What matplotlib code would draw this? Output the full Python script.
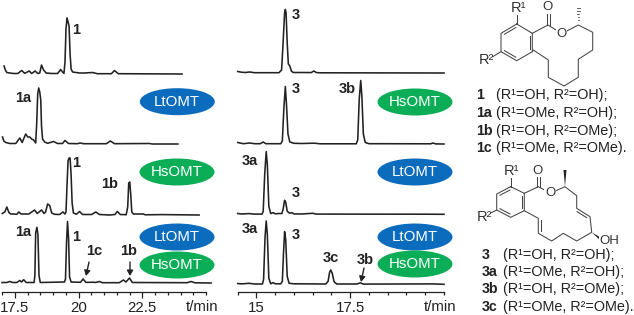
# -*- coding: utf-8 -*-
import numpy as np
import matplotlib
matplotlib.use("Agg")
import matplotlib.pyplot as plt
from matplotlib.patches import Ellipse, Polygon

plt.rcParams["font.family"] = ["Liberation Sans", "DejaVu Sans"]

W, H = 634, 315
INK = "#222222"
BLUE = "#0B6CBE"
GREEN = "#0BAE57"

# left panel, traces top to bottom (t in min, signal in arbitrary units)
l1_t = [17.08, 17.13, 17.19, 17.30, 17.46, 17.62, 17.77, 17.89, 18.07, 18.16, 18.30, 18.40, 18.48, 18.55, 18.63, 18.73, 18.95, 19.18, 19.30, 19.37, 19.43, 19.47, 19.51, 19.55, 19.59, 19.63, 19.67, 19.71, 19.77, 20.04, 20.23, 20.55, 20.74, 21.29, 21.41, 21.56, 24.06]
l1_h = [8, 4, 1.5, 1, .5, .5, 3.5, .7, 3, .5, 3, .5, 1, 9, 4, 1, .5, .5, 4.5, 2, .7, 12, 45, 56, 52, 48, 20, 5, 2, 1, 1, 1.5, .3, .3, 3.5, .3, 0]
l2_t = [17.02, 17.07, 17.15, 17.30, 17.54, 17.70, 17.79, 17.93, 18.01, 18.09, 18.16, 18.24, 18.32, 18.36, 18.40, 18.44, 18.48, 18.52, 18.55, 18.59, 18.67, 18.79, 19.02, 19.18, 19.37, 19.47, 19.61, 19.96, 20.06, 20.20, 21.09, 21.25, 21.41, 22.77, 22.89, 23.90]
l2_h = [7, 3, 1.5, .5, .5, 6, 1.5, 10, 7, 7, 5, 4, 1, 20, 50, 56, 52, 44, 18, 5, 2, .7, 2.5, .5, .5, 3.5, .5, .3, 1, .3, .3, 3, .3, .5, 0, 0]
l3_t = [17.01, 17.11, 17.19, 17.27, 17.34, 17.46, 17.58, 17.66, 17.75, 18.05, 18.28, 18.38, 18.55, 18.65, 18.71, 18.79, 18.87, 18.95, 19.06, 19.26, 19.39, 19.47, 19.51, 19.55, 19.59, 19.63, 19.67, 19.71, 19.75, 19.80, 19.92, 20.04, 20.16, 20.51, 20.68, 20.82, 21.21, 21.43, 21.52, 21.64, 21.87, 21.93, 21.97, 22.01, 22.05, 22.09, 22.15, 22.54, 22.62, 23.28, 24.73]
l3_h = [1.5, 3, 8, 2.5, 1, 1, .7, 3, 1, 1, 5, 1.5, 5, 1.5, 3, 11, 9.5, 2, .7, .5, 3, 1, 3, 30, 54, 57, 57, 40, 12, 2, .8, 3.5, .5, .5, 3, .5, 0, .5, 3.5, .5, .3, 8, 32, 33, 20, 3, 1, 1, .2, .4, 0]
l4_t = [17.00, 17.19, 17.30, 17.42, 17.58, 17.70, 17.77, 17.85, 17.95, 18.26, 18.29, 18.32, 18.37, 18.41, 18.45, 18.50, 19.45, 19.49, 19.53, 19.57, 19.61, 19.65, 19.71, 20.08, 20.18, 20.29, 20.59, 20.66, 20.82, 20.94, 21.60, 21.76, 21.86, 22.00, 22.11, 24.26, 24.41, 24.57, 25.20]
l4_h = [.5, .5, 1.5, .5, .5, 2.5, 1, 3.3, .5, .5, 8, 50, 55.7, 48, 8, .5, 1, 4, 40, 61.5, 45, 6, 1, .7, 4, .6, .8, .5, 1.5, .3, .3, 3, 1, 5, .5, .3, 1.5, .2, 0]

# right panel
r1_t = [14.50, 14.60, 14.70, 14.82, 14.95, 15.60, 15.67, 15.71, 15.75, 15.77, 15.79, 15.82, 15.85, 15.89, 15.93, 15.98, 16.25, 16.46, 16.53, 16.60, 16.70, 20.00]
r1_h = [1.5, .8, .5, 1, .3, .3, 3, 30, 60, 63.5, 60, 30, 9, 7, 2, .5, .5, .4, 2, .4, .2, 0]
r2_t = [14.50, 14.65, 14.82, 14.95, 15.10, 15.18, 15.25, 15.65, 15.69, 15.73, 15.77, 15.80, 15.84, 15.89, 16.00, 16.20, 16.54, 16.70, 17.66, 17.70, 17.74, 17.78, 17.81, 17.85, 17.90, 18.00, 19.65, 19.70, 19.78, 20.00]
r2_h = [1.5, .3, 1, .3, .3, 2, .3, .3, 3, 35, 57.5, 40, 10, 2, .7, .5, .8, .2, .2, 4, 45, 63.5, 48, 10, 1.5, .3, .2, 1, .1, 0]
r3_t = [14.50, 14.60, 14.80, 14.95, 15.15, 15.18, 15.22, 15.26, 15.29, 15.33, 15.38, 15.44, 15.50, 15.60, 15.68, 15.71, 15.75, 15.78, 15.82, 15.88, 15.95, 16.00, 16.20, 16.50, 16.60, 19.55, 20.00]
r3_h = [.8, .3, .7, .2, .2, 3, 40, 62.7, 50, 8, .7, 1.7, .5, .8, .8, 5, 14, 12, 3, 1.2, 1.5, .4, .3, 1, .2, .1, 0]
r4_t = [14.50, 14.60, 14.80, 14.95, 15.16, 15.19, 15.23, 15.26, 15.29, 15.33, 15.38, 15.44, 15.50, 15.65, 15.69, 15.72, 15.75, 15.78, 15.82, 15.87, 16.00, 16.50, 16.85, 16.91, 16.95, 16.98, 17.02, 17.07, 17.14, 17.68, 17.77, 17.85, 19.70, 20.00]
r4_h = [.8, .4, 1, .3, .3, 5, 48, 63.3, 50, 6, .5, 1.7, .5, .5, 3, 30, 52.7, 45, 8, 1, .5, .4, .3, 3, 12, 14.3, 11, 2.5, .3, .3, 1.5, .2, .4, 0]

left_traces = [(l1_t, l1_h), (l2_t, l2_h), (l3_t, l3_h), (l4_t, l4_h)]
right_traces = [(r1_t, r1_h), (r2_t, r2_h), (r3_t, r3_h), (r4_t, r4_h)]
left_base = [218, 148, 77, 9]
right_base = [219, 148, 77.7, 7.7]

left_major = [17.5, 20, 22.5]
right_major = [15, 17.5]

fig = plt.figure(figsize=(W / 100, H / 100), dpi=100)
fig.patch.set_facecolor("white")


def panel(x0, x1, xlim, major, traces, bases):
    ax = fig.add_axes([x0 / W, (H - 292) / H, (x1 - x0) / W, 292 / H])
    ax.set_xlim(*xlim)
    ax.set_ylim(0, 292)
    ax.patch.set_alpha(0)
    for s in ["top", "left", "right"]:
        ax.spines[s].set_visible(False)
    ax.spines["bottom"].set_color(INK)
    ax.spines["bottom"].set_linewidth(0.9)
    ax.set_yticks([])
    ax.set_xticks(major)
    ax.set_xticklabels([f"{m:g}" for m in major])
    ax.set_xticks(np.arange(xlim[0], xlim[1] + 0.01, 0.5), minor=True)
    ax.tick_params(axis="x", which="major", length=4.5, width=0.9, color=INK, labelsize=10.8, labelcolor=INK, pad=2)
    ax.tick_params(axis="x", which="minor", length=2.5, width=0.9, color=INK)
    for (t, h), b in zip(traces, bases):
        ax.plot(t, np.array(h) + b, color=INK, lw=1.15, clip_on=False, solid_joinstyle="round")
    return ax


panel(2, 206, (17, 25), left_major, left_traces, left_base)
panel(237.7, 444, (14.5, 20), right_major, right_traces, right_base)

# overlay in pixels for annotation and structures
ov = fig.add_axes([0, 0, 1, 1], zorder=5)
ov.set_xlim(0, W)
ov.set_ylim(H, 0)
ov.axis("off")

pills = [("LtOMT", 177.3, 101.7, BLUE), ("HsOMT", 177, 172, GREEN), ("LtOMT", 177, 237, BLUE), ("HsOMT", 177, 265, GREEN),
         ("HsOMT", 415, 102, GREEN), ("LtOMT", 415, 172, BLUE), ("LtOMT", 415, 237, BLUE), ("HsOMT", 415, 264, GREEN)]
for name, x, y, c in pills:
    ov.add_patch(Ellipse((x, y), 75, 27, fc=c, ec="none"))
    ov.text(x, y + 0.3, name, color="white", fontsize=10.8, ha="center", va="center")

labels = [("1", 76, 30), ("1a", 23, 98), ("1", 76, 163), ("1b", 110, 184), ("1a", 23, 232), ("1", 76, 237), ("1c", 94, 251), ("1b", 129, 251),
          ("3", 296, 15), ("3", 296, 89), ("3b", 347, 89), ("3a", 250, 161), ("3", 296, 193), ("3a", 250, 229), ("3", 296, 235), ("3c", 331, 258), ("3b", 365, 260)]
for s, x, y in labels:
    ov.text(x, y, s, fontsize=10.5, fontweight="bold", color=INK, ha="center", va="center")

arrows = [((89, 262), (86, 276)), ((130, 262), (130, 276)), ((364, 268), (361, 282))]
for a, b in arrows:
    ov.annotate("", xy=b, xytext=a, arrowprops=dict(arrowstyle="-|>,head_width=0.18,head_length=0.32", color=INK, lw=1.0, shrinkA=0, shrinkB=0))

ov.text(202, 307, "t/min", fontsize=10.8, color=INK, ha="center", va="center")
ov.text(440, 307, "t/min", fontsize=10.8, color=INK, ha="center", va="center")

# compound lists
names1 = ["1", "1a", "1b", "1c"]
names3 = ["3", "3a", "3b", "3c"]
subst = ["(R¹=OH, R²=OH);", "(R¹=OMe, R²=OH);", "(R¹=OH, R²=OMe);", "(R¹=OMe, R²=OMe)."]
y1 = [95, 113, 131, 148]
y3 = [255, 272, 289, 307]
for n, s, y in zip(names1, subst, y1):
    ov.text(476, y, n, fontsize=10.3, fontweight="bold", color=INK, va="center")
    ov.text(496, y, s, fontsize=10.4, color=INK, va="center")
for n, s, y in zip(names3, subst, y3):
    ov.text(482, y, n, fontsize=10.3, fontweight="bold", color=INK, va="center")
    ov.text(503, y, s, fontsize=10.4, color=INK, va="center")

# structures
BOND = "#444444"


def bonds(path):
    xs, ys = zip(*path)
    ov.plot(xs, ys, color=BOND, lw=0.75, solid_joinstyle="round")


def inner(a, b, centre=None, off=2.6, trim=0.14, side=1):
    a, b = np.array(a, float), np.array(b, float)
    d = b - a
    n = np.array([-d[1], d[0]]) / np.hypot(*d)
    if centre is not None:
        side = np.sign(np.dot(np.array(centre) - a, n))
    p, q = a + d * trim + n * off * side, b - d * trim + n * off * side
    ov.plot([p[0], q[0]], [p[1], q[1]], color=BOND, lw=0.75)


def hashed(a, b, n=6):
    a, b = np.array(a, float), np.array(b, float)
    d = b - a
    u = np.array([-d[1], d[0]]) / np.hypot(*d)
    for f in np.linspace(0.1, 1, n):
        c = a + d * f
        w = 1.6 * f
        ov.plot([c[0] - u[0] * w, c[0] + u[0] * w], [c[1] - u[1] * w, c[1] + u[1] * w], color=BOND, lw=0.6)


def wedge(a, b):
    a, b = np.array(a, float), np.array(b, float)
    d = b - a
    u = np.array([-d[1], d[0]]) / np.hypot(*d) * 1.5
    ov.add_patch(Polygon([a, b + u, b - u], fc="#222222", ec="none"))


def atom(x, y, s):
    ov.text(x, y, s, fontsize=9.5, color="#333333", ha="center", va="center",
            bbox=dict(fc="white", ec="none", pad=0.4))


# compound 1
A, B, C, D, E, F = (516.7, 24), (532.3, 33.3), (532.3, 51.7), (516.7, 60.7), (501, 51.7), (501, 33.3)
ring1 = [A, B, C, D, E, F, A]
bonds(ring1)
centre1 = (516.7, 42.5)
inner(F, A, centre1)
inner(B, C, centre1)
inner(D, E, centre1)
bonds([A, (516.7, 15)])
bonds([E, (492.7, 56.7)])
bonds([B, (548, 25), (561, 33)])
bonds([(563, 33), (578.3, 25), (592.7, 32.3), (592.7, 50), (578.3, 59.3), (578.3, 77.3), (564, 86), (548.3, 77.3), (548.3, 60), (533.3, 50), C])
bonds([(547, 25), (547, 13)])
bonds([(549.6, 25), (549.6, 13)])
hashed((578.3, 25), (578.3, 8))
atom(547.7, 7.5, "O")
atom(561.7, 34, "O")
ov.text(518, 7.5, "R¹", fontsize=10.5, color="#333333", ha="center", va="center")
ov.text(486, 60, "R²", fontsize=10.5, color="#333333", ha="center", va="center")

# compound 3
A3, B3, C3, D3, E3, F3 = (510.7, 186.7), (524.3, 193.3), (524.3, 210.7), (510.7, 217.3), (496.7, 210), (496.7, 194)
bonds([A3, B3, C3, D3, E3, F3, A3])
centre3 = (510.5, 202)
inner(F3, A3, centre3)
inner(B3, C3, centre3)
inner(D3, E3, centre3)
bonds([A3, (510.7, 178)])
bonds([E3, (490.7, 213)])
bonds([B3, (538.3, 186.7), (549.5, 192.5)])
bonds([(552, 192.5), (565, 186.7), (576.7, 195.7), (576.7, 208.3), (590, 216.7), (591.7, 232.3), (576.7, 241), (563.3, 233.3), (551.7, 241), (538.3, 233.3), (538.3, 218.3), C3])
bonds([(537, 186.7), (537, 176)])
bonds([(539.6, 186.7), (539.6, 176)])
inner((576.7, 208.3), (590, 216.7), (570, 216))
inner((538.3, 233.3), (538.3, 218.3), (545, 226))
wedge((565, 186.7), (565, 170))
wedge((591.7, 232.3), (602, 240))
atom(537.7, 170.7, "O")
atom(550, 193.3, "O")
atom(609.5, 241, "OH")
ov.text(511.7, 170.7, "R¹", fontsize=10.5, color="#333333", ha="center", va="center")
ov.text(484, 217, "R²", fontsize=10.5, color="#333333", ha="center", va="center")

fig.savefig("out.png", dpi=100)
